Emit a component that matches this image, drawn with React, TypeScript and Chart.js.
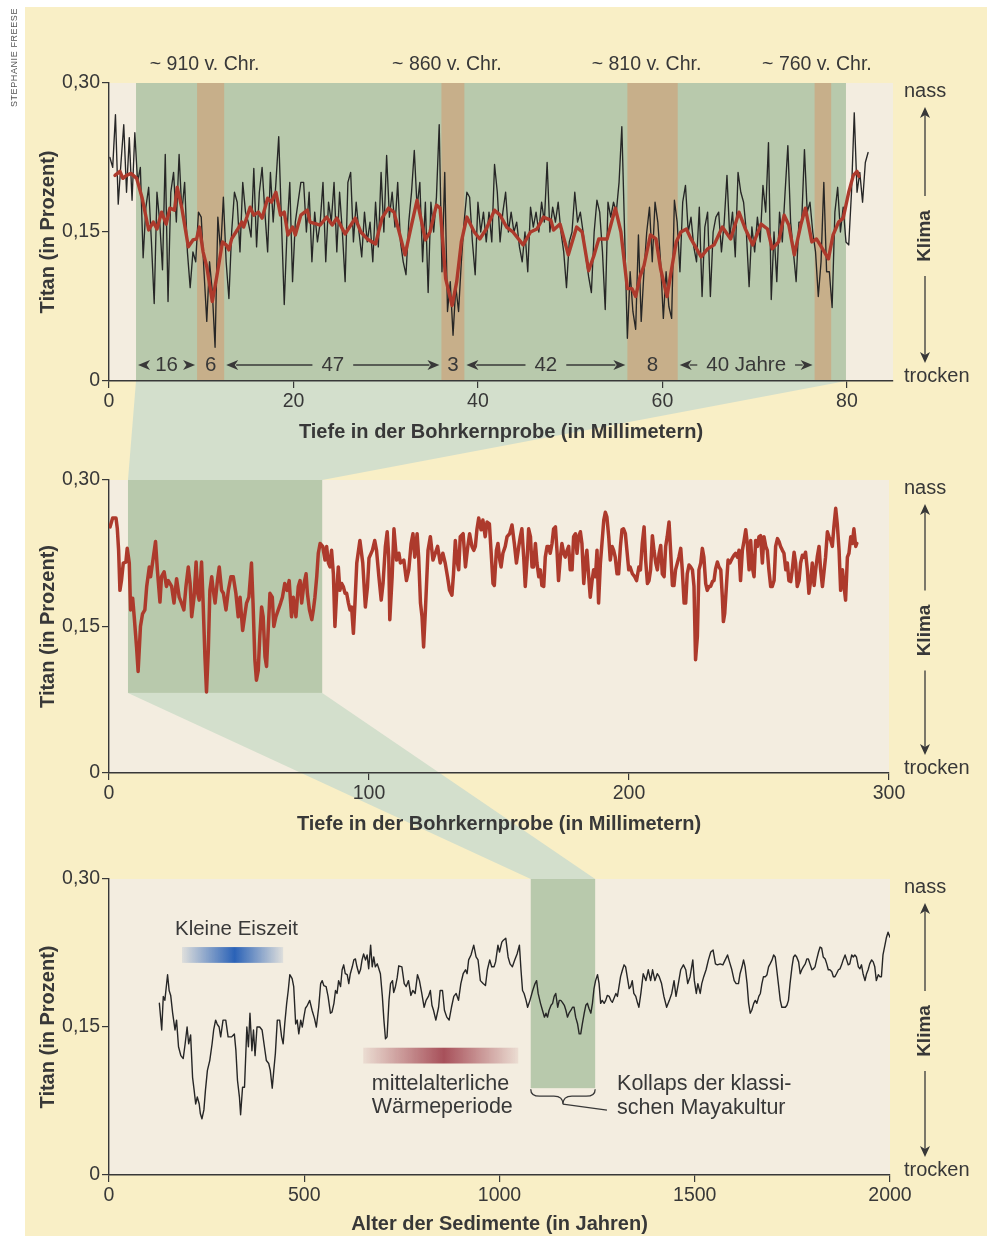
import React, { useEffect, useRef } from "react";
import { Chart, registerables } from "chart.js";

Chart.register(...registerables);

const FONT = "'Liberation Sans', Arial, Helvetica, sans-serif";
Chart.defaults.font.family = FONT;

// ---------------- data ----------------
const titanTicks = [0, 0.15, 0.3];
const topDepthTicks = [0, 20, 40, 60, 80];
const midDepthTicks = [0, 100, 200, 300];
const ageTicks = [0, 500, 1000, 1500, 2000];
const topDepthRange = [0, 85];
const midDepthRange = [0, 300];
const ageRange = [0, 2000];

// top core section (mm) that is enlarged, dry bands (mm), labels
const topSection = [2.93, 79.9];
const dryBands = [[9.55, 12.49], [36.04, 38.53], [56.2, 61.66], [76.5, 78.3]];
const eraLabels = ["~ 910 v. Chr.", "~ 860 v. Chr.", "~ 810 v. Chr.", "~ 760 v. Chr."];
const dryBandYears = ["6", "3", "8", ""];
const gapIntervals = [[2.93, 9.55], [12.49, 36.04], [38.53, 56.2], [61.66, 76.5]];
const gapLabels = ["16", "47", "42", "40 Jahre"];

// middle core: section shown on top (mm) and its lower titan level
const midZoomDepth = [7.3, 82];
const midZoomFloor = 0.082;
// bottom: collapse period (years) and its lower titan level
const collapseAge = [1080, 1245];
const collapseFloor = 0.088;
const littleIceAge = [187, 446, 0.215, 0.231];
const medievalWarm = [651, 1048, 0.113, 0.129];

const topBlackStart = 0.1;
const topBlackStep = 0.3;
const topBlackTitan = [
  0.225, 0.215, 0.268, 0.178, 0.22, 0.258, 0.19, 0.245, 0.182, 0.25,
  0.2, 0.215, 0.124, 0.175, 0.195, 0.14, 0.078, 0.19, 0.16, 0.112,
  0.228, 0.08, 0.19, 0.21, 0.16, 0.228, 0.17, 0.2, 0.13, 0.094,
  0.13, 0.12, 0.17, 0.165, 0.11, 0.06, 0.12, 0.09, 0.034, 0.165,
  0.13, 0.185, 0.12, 0.083, 0.15, 0.19, 0.18, 0.13, 0.2, 0.17,
  0.16, 0.145, 0.214, 0.135, 0.19, 0.215, 0.17, 0.13, 0.21, 0.16,
  0.2, 0.246, 0.16, 0.077, 0.15, 0.2, 0.1, 0.16, 0.18, 0.2,
  0.2, 0.15, 0.19, 0.12, 0.17, 0.14, 0.16, 0.2, 0.12, 0.18,
  0.16, 0.2, 0.13, 0.19, 0.15, 0.1, 0.2, 0.21, 0.14, 0.18,
  0.15, 0.125, 0.17, 0.14, 0.16, 0.12, 0.18, 0.135, 0.21, 0.15,
  0.227, 0.165, 0.19, 0.155, 0.2, 0.14, 0.12, 0.107, 0.16, 0.19,
  0.232, 0.175, 0.2, 0.12, 0.18, 0.089, 0.18, 0.15, 0.185, 0.258,
  0.11, 0.21, 0.07, 0.1, 0.046, 0.095, 0.07, 0.12, 0.16, 0.19,
  0.185, 0.14, 0.107, 0.18, 0.15, 0.17, 0.14, 0.17, 0.14, 0.218,
  0.19, 0.14, 0.17, 0.19, 0.15, 0.17, 0.15, 0.16, 0.135, 0.12,
  0.15, 0.11, 0.175, 0.155, 0.17, 0.15, 0.18, 0.16, 0.22, 0.15,
  0.175, 0.16, 0.18, 0.15, 0.13, 0.094, 0.14, 0.15, 0.19, 0.16,
  0.17, 0.15, 0.125, 0.105, 0.089, 0.15, 0.182, 0.17, 0.13, 0.072,
  0.18, 0.165, 0.18, 0.17, 0.2, 0.256, 0.15, 0.043, 0.11, 0.07,
  0.052, 0.147, 0.06, 0.11, 0.15, 0.175, 0.12, 0.18, 0.16, 0.12,
  0.063, 0.11, 0.075, 0.063, 0.182, 0.16, 0.11, 0.18, 0.197, 0.15,
  0.165, 0.135, 0.12, 0.175, 0.085, 0.155, 0.17, 0.085, 0.15, 0.165,
  0.17, 0.13, 0.16, 0.207, 0.145, 0.17, 0.125, 0.21, 0.19, 0.18,
  0.15, 0.095, 0.155, 0.13, 0.165, 0.14, 0.197, 0.17, 0.24, 0.082,
  0.15, 0.1, 0.17, 0.14, 0.19, 0.237, 0.16, 0.13, 0.1, 0.16,
  0.16, 0.233, 0.17, 0.18, 0.15, 0.13, 0.085, 0.12, 0.2, 0.11,
  0.11, 0.074, 0.17, 0.195, 0.15, 0.175, 0.14, 0.137, 0.19, 0.27,
  0.19, 0.21, 0.18, 0.22, 0.23,
];

const topRedSeries: [number, number][] = [
  [0.65, 0.207], [1.19, 0.211], [1.5, 0.204], [1.9, 0.207], [2.4, 0.209], [3.0, 0.204], [3.6, 0.184],
  [4.3, 0.152], [4.8, 0.16], [5.2, 0.153], [5.7, 0.17], [6.2, 0.158], [6.6, 0.174], [7.1, 0.172],
  [7.4, 0.195], [7.9, 0.174], [8.6, 0.135], [9.1, 0.142], [9.5, 0.143], [9.8, 0.155], [10.2, 0.13],
  [10.6, 0.115], [11.2, 0.08], [11.7, 0.106], [12.3, 0.14], [12.7, 0.137], [13.0, 0.132], [13.3, 0.143],
  [13.9, 0.152], [14.4, 0.16], [14.6, 0.155], [15.3, 0.175], [15.7, 0.167], [16.2, 0.17], [16.6, 0.164],
  [17.2, 0.184], [17.6, 0.18], [18.1, 0.19], [18.6, 0.167], [19.0, 0.17], [19.4, 0.147], [19.9, 0.155],
  [20.2, 0.147], [20.8, 0.167], [21.5, 0.172], [21.8, 0.16], [22.9, 0.157], [23.6, 0.165], [24.2, 0.157],
  [24.7, 0.164], [25.6, 0.148], [26.7, 0.164], [27.3, 0.15], [28.0, 0.143], [28.9, 0.138], [29.6, 0.164],
  [30.3, 0.174], [30.9, 0.17], [32.1, 0.127], [32.7, 0.153], [33.4, 0.182], [34.3, 0.142], [34.8, 0.15],
  [35.5, 0.177], [35.9, 0.174], [36.5, 0.103], [37.2, 0.076], [37.7, 0.1], [38.2, 0.14], [38.8, 0.165],
  [39.6, 0.15], [40.2, 0.143], [40.9, 0.153], [41.8, 0.172], [42.4, 0.167], [43.1, 0.155], [43.8, 0.15],
  [44.9, 0.137], [45.7, 0.15], [46.4, 0.153], [47.1, 0.165], [47.9, 0.162], [48.2, 0.152], [48.9, 0.158],
  [49.8, 0.127], [50.7, 0.155], [51.3, 0.15], [52.0, 0.111], [52.6, 0.127], [53.1, 0.143], [54.0, 0.143],
  [54.9, 0.174], [55.5, 0.15], [56.2, 0.093], [56.7, 0.093], [57.1, 0.085], [57.6, 0.106], [58.0, 0.116],
  [58.7, 0.147], [59.3, 0.143], [59.8, 0.113], [60.5, 0.085], [61.0, 0.113], [61.5, 0.14], [62.0, 0.15],
  [62.6, 0.153], [63.1, 0.143], [64.2, 0.125], [64.9, 0.133], [65.6, 0.137], [66.5, 0.155], [67.4, 0.143],
  [68.3, 0.17], [69.0, 0.153], [69.8, 0.137], [70.7, 0.158], [71.4, 0.153], [71.9, 0.133], [72.6, 0.14],
  [73.2, 0.167], [73.7, 0.157], [74.3, 0.127], [75.0, 0.157], [75.5, 0.174], [76.2, 0.14], [76.7, 0.143],
  [77.1, 0.137], [78.0, 0.123], [78.5, 0.147], [79.1, 0.16], [79.6, 0.164], [80.2, 0.19], [80.7, 0.207],
  [81.1, 0.211], [81.3, 0.206],
];

const midSeries: [number, number][] = [
  [0.4, 0.252], [1.4, 0.261], [2.7, 0.261], [3.2, 0.25], [3.7, 0.228], [4.2, 0.187], [4.8, 0.197], [5.5, 0.215],
  [6.5, 0.216], [7.0, 0.23], [7.8, 0.215], [8.3, 0.167], [9.1, 0.179], [9.7, 0.16], [10.6, 0.129], [11.2, 0.104],
  [12.1, 0.15], [12.9, 0.163], [13.8, 0.167], [14.5, 0.191], [15.5, 0.211], [16.0, 0.201], [17.0, 0.22], [17.9, 0.237],
  [18.6, 0.208], [19.6, 0.175], [20.2, 0.201], [21.2, 0.206], [22.1, 0.191], [22.8, 0.197], [24.1, 0.191], [25.0, 0.174],
  [26.0, 0.199], [27.0, 0.18], [27.9, 0.174], [28.8, 0.167], [29.6, 0.191], [30.5, 0.211], [31.2, 0.194], [31.8, 0.16],
  [32.7, 0.18], [33.5, 0.216], [34.1, 0.184], [34.7, 0.177], [35.6, 0.216], [36.2, 0.174], [36.9, 0.119], [37.5, 0.083],
  [38.2, 0.126], [38.8, 0.187], [39.5, 0.201], [40.1, 0.187], [40.8, 0.174], [41.7, 0.197], [42.4, 0.211], [43.3, 0.187],
  [44.0, 0.184], [45.0, 0.167], [45.9, 0.187], [46.9, 0.201], [47.8, 0.201], [48.8, 0.184], [49.7, 0.16], [50.4, 0.18],
  [51.4, 0.146], [52.3, 0.163], [52.9, 0.174], [53.8, 0.18], [54.8, 0.215], [55.4, 0.174], [56.1, 0.116], [56.7, 0.095],
  [57.4, 0.105], [58.0, 0.14], [58.7, 0.17], [59.3, 0.16], [60.0, 0.119], [60.6, 0.109], [61.3, 0.15], [61.9, 0.184],
  [62.8, 0.18], [63.4, 0.15], [64.2, 0.16], [65.1, 0.167], [66.0, 0.174], [66.7, 0.18], [67.6, 0.194], [68.5, 0.187],
  [69.3, 0.197], [70.2, 0.16], [70.9, 0.18], [71.9, 0.16], [72.8, 0.191], [73.5, 0.197], [74.1, 0.174], [75.0, 0.194],
  [75.8, 0.204], [76.3, 0.184], [77.1, 0.167], [78.0, 0.157], [78.6, 0.167], [79.2, 0.18], [79.9, 0.201], [80.5, 0.225],
  [81.2, 0.235], [82.2, 0.232], [83.1, 0.218], [83.7, 0.232], [84.4, 0.215], [85.0, 0.211], [85.6, 0.228], [86.3, 0.204],
  [86.9, 0.15], [87.6, 0.187], [88.2, 0.211], [88.8, 0.187], [89.5, 0.194], [90.1, 0.191], [90.8, 0.184], [91.4, 0.184],
  [92.1, 0.174], [92.7, 0.167], [93.3, 0.17], [94.0, 0.143], [94.6, 0.174], [95.3, 0.215], [96.5, 0.238], [97.6, 0.215],
  [98.6, 0.17], [99.4, 0.19], [100.0, 0.22], [101.3, 0.228], [102.2, 0.238], [102.9, 0.228], [103.8, 0.201], [104.7, 0.177],
  [105.4, 0.194], [106.3, 0.232], [107.0, 0.247], [107.6, 0.221], [108.0, 0.157], [108.9, 0.201], [109.6, 0.25], [110.6, 0.218],
  [111.5, 0.225], [112.1, 0.215], [113.4, 0.218], [114.4, 0.197], [115.3, 0.208], [116.2, 0.235], [116.9, 0.245], [117.6, 0.221],
  [118.5, 0.245], [119.1, 0.221], [119.8, 0.174], [120.4, 0.16], [121.0, 0.129], [121.7, 0.167], [122.7, 0.228], [123.6, 0.242],
  [124.6, 0.218], [125.5, 0.225], [126.4, 0.232], [127.4, 0.215], [128.4, 0.225], [129.3, 0.215], [130.2, 0.201], [131.0, 0.187],
  [131.9, 0.182], [132.5, 0.204], [133.2, 0.238], [133.8, 0.218], [134.5, 0.208], [135.1, 0.242], [136.2, 0.245], [137.1, 0.211],
  [138.0, 0.232], [138.7, 0.245], [139.6, 0.232], [140.3, 0.228], [140.9, 0.232], [141.5, 0.249], [142.2, 0.261], [143.1, 0.249],
  [143.8, 0.259], [144.7, 0.242], [145.4, 0.257], [146.3, 0.255], [147.0, 0.225], [147.7, 0.194], [148.2, 0.192], [149.0, 0.228],
  [149.6, 0.235], [150.3, 0.218], [150.8, 0.211], [151.5, 0.225], [152.4, 0.232], [153.1, 0.242], [154.1, 0.245], [155.0, 0.254],
  [155.9, 0.235], [156.7, 0.215], [157.6, 0.232], [158.2, 0.242], [158.8, 0.25], [159.5, 0.221], [160.1, 0.191], [160.8, 0.218],
  [161.4, 0.25], [162.1, 0.242], [162.7, 0.211], [163.3, 0.211], [164.0, 0.235], [164.6, 0.215], [165.3, 0.201], [165.9, 0.208],
  [166.5, 0.192], [167.2, 0.191], [167.8, 0.221], [168.5, 0.232], [169.1, 0.232], [169.7, 0.225], [170.4, 0.235], [171.0, 0.25],
  [171.7, 0.252], [172.3, 0.228], [172.9, 0.197], [173.6, 0.221], [174.2, 0.235], [174.9, 0.225], [175.5, 0.221], [176.2, 0.228],
  [176.8, 0.232], [177.4, 0.208], [178.1, 0.208], [178.7, 0.242], [179.4, 0.245], [180.0, 0.225], [180.6, 0.242], [181.3, 0.247],
  [181.9, 0.235], [182.6, 0.194], [183.2, 0.215], [183.8, 0.228], [184.5, 0.201], [185.1, 0.18], [185.8, 0.197], [186.4, 0.208],
  [187.1, 0.201], [187.7, 0.228], [188.3, 0.174], [189.0, 0.215], [189.6, 0.235], [190.3, 0.259], [190.9, 0.267], [191.5, 0.262],
  [192.2, 0.242], [192.8, 0.218], [193.5, 0.232], [194.1, 0.228], [194.7, 0.221], [195.4, 0.204], [196.0, 0.204], [196.7, 0.232],
  [197.3, 0.249], [197.9, 0.25], [198.6, 0.245], [199.2, 0.228], [199.9, 0.208], [200.4, 0.211], [201.3, 0.204], [202.2, 0.201],
  [202.9, 0.197], [203.8, 0.211], [204.4, 0.208], [205.1, 0.235], [205.8, 0.252], [206.4, 0.218], [207.1, 0.194], [207.7, 0.197],
  [208.3, 0.208], [209.0, 0.243], [209.6, 0.228], [210.3, 0.215], [210.9, 0.208], [211.6, 0.225], [212.2, 0.233], [212.8, 0.204],
  [213.5, 0.201], [214.1, 0.232], [214.7, 0.242], [215.4, 0.257], [216.0, 0.228], [216.7, 0.192], [217.3, 0.192], [217.9, 0.208],
  [218.6, 0.215], [219.2, 0.221], [219.9, 0.23], [220.5, 0.208], [221.2, 0.174], [221.8, 0.174], [222.4, 0.204], [223.1, 0.213],
  [223.7, 0.211], [224.4, 0.208], [225.0, 0.191], [225.6, 0.116], [226.3, 0.14], [226.9, 0.208], [227.6, 0.215], [228.2, 0.23],
  [228.8, 0.221], [229.5, 0.194], [230.1, 0.187], [230.8, 0.191], [231.4, 0.191], [232.1, 0.196], [232.7, 0.197], [233.3, 0.209],
  [234.0, 0.216], [234.6, 0.211], [235.3, 0.208], [235.9, 0.18], [236.3, 0.155], [236.8, 0.163], [237.6, 0.197], [238.1, 0.218],
  [238.8, 0.215], [239.7, 0.22], [240.4, 0.223], [241.0, 0.225], [241.7, 0.221], [242.3, 0.228], [242.9, 0.197], [243.6, 0.228],
  [244.2, 0.237], [244.9, 0.249], [245.5, 0.235], [246.2, 0.208], [246.8, 0.238], [247.4, 0.211], [248.1, 0.201], [248.7, 0.238],
  [249.4, 0.232], [250.0, 0.242], [250.6, 0.243], [251.3, 0.215], [251.9, 0.242], [252.6, 0.232], [253.2, 0.228], [253.8, 0.208],
  [254.5, 0.191], [255.1, 0.191], [255.8, 0.197], [256.4, 0.232], [257.1, 0.24], [257.7, 0.237], [258.3, 0.232], [259.0, 0.228],
  [259.6, 0.225], [260.3, 0.208], [260.9, 0.215], [261.5, 0.197], [262.2, 0.196], [262.8, 0.208], [263.5, 0.226], [264.1, 0.215],
  [264.7, 0.191], [265.4, 0.197], [266.0, 0.215], [266.7, 0.223], [267.3, 0.221], [267.9, 0.226], [268.6, 0.208], [269.2, 0.184],
  [269.9, 0.197], [270.5, 0.215], [271.2, 0.192], [271.8, 0.208], [272.4, 0.221], [273.1, 0.232], [273.7, 0.208], [274.4, 0.191],
  [275.0, 0.206], [275.6, 0.221], [276.3, 0.247], [276.9, 0.242], [277.6, 0.238], [278.2, 0.232], [278.8, 0.252], [279.5, 0.271],
  [280.1, 0.255], [280.8, 0.228], [281.4, 0.187], [282.1, 0.208], [282.7, 0.191], [283.3, 0.177], [284.0, 0.221], [284.6, 0.225],
  [285.3, 0.242], [285.9, 0.235], [286.5, 0.25], [287.2, 0.232], [287.6, 0.235],
];

const ageSeries: [number, number][] = [
  [129, 0.174], [135, 0.147], [139, 0.181], [143, 0.177], [150, 0.203], [154, 0.187], [158, 0.182], [163, 0.164],
  [169, 0.147], [173, 0.157], [178, 0.13], [184, 0.121], [190, 0.118], [195, 0.133], [200, 0.15], [204, 0.133],
  [209, 0.142], [214, 0.099], [218, 0.086], [222, 0.072], [226, 0.079], [231, 0.072], [234, 0.062], [238, 0.057],
  [243, 0.066], [247, 0.086], [252, 0.106], [258, 0.116], [264, 0.133], [268, 0.147], [273, 0.157], [277, 0.153],
  [282, 0.15], [286, 0.14], [292, 0.157], [299, 0.157], [305, 0.14], [314, 0.14], [321, 0.143], [325, 0.126],
  [329, 0.096], [334, 0.079], [337, 0.061], [342, 0.089], [347, 0.089], [353, 0.15], [357, 0.13], [361, 0.164],
  [366, 0.126], [370, 0.147], [374, 0.121], [379, 0.15], [386, 0.15], [392, 0.147], [398, 0.13], [403, 0.116],
  [409, 0.113], [413, 0.106], [418, 0.088], [422, 0.106], [426, 0.123], [431, 0.157], [437, 0.157], [442, 0.14],
  [446, 0.133], [450, 0.153], [455, 0.174], [459, 0.187], [463, 0.203], [469, 0.199], [473, 0.191], [478, 0.153],
  [482, 0.157], [486, 0.143], [491, 0.157], [495, 0.15], [499, 0.16], [503, 0.169], [508, 0.172], [514, 0.177],
  [520, 0.167], [526, 0.159], [531, 0.15], [537, 0.17], [542, 0.194], [546, 0.197], [550, 0.192], [556, 0.191],
  [561, 0.181], [567, 0.164], [571, 0.165], [576, 0.174], [580, 0.187], [584, 0.184], [588, 0.197], [593, 0.191],
  [597, 0.208], [601, 0.213], [605, 0.204], [610, 0.203], [614, 0.194], [618, 0.204], [623, 0.211], [627, 0.218],
  [631, 0.219], [635, 0.211], [640, 0.204], [644, 0.208], [648, 0.218], [652, 0.224], [657, 0.218], [661, 0.223],
  [665, 0.209], [670, 0.233], [674, 0.211], [678, 0.221], [682, 0.211], [687, 0.214], [691, 0.209], [695, 0.204],
  [700, 0.181], [704, 0.157], [708, 0.138], [712, 0.14], [717, 0.177], [721, 0.194], [726, 0.197], [729, 0.185],
  [733, 0.19], [738, 0.2], [742, 0.212], [750, 0.211], [756, 0.194], [761, 0.191], [767, 0.197], [773, 0.182],
  [778, 0.187], [784, 0.184], [790, 0.203], [795, 0.197], [801, 0.184], [807, 0.17], [812, 0.177], [818, 0.181],
  [823, 0.187], [827, 0.172], [831, 0.167], [837, 0.157], [844, 0.17], [848, 0.187], [854, 0.187], [859, 0.167],
  [865, 0.16], [871, 0.157], [877, 0.17], [883, 0.181], [889, 0.184], [895, 0.177], [901, 0.194], [907, 0.204],
  [913, 0.208], [917, 0.204], [921, 0.218], [927, 0.223], [934, 0.233], [940, 0.221], [945, 0.218], [951, 0.197],
  [958, 0.194], [964, 0.192], [969, 0.208], [975, 0.218], [980, 0.211], [986, 0.211], [990, 0.216], [996, 0.233],
  [1000, 0.226], [1006, 0.236], [1010, 0.238], [1016, 0.24], [1022, 0.221], [1027, 0.214], [1033, 0.211], [1039, 0.218],
  [1045, 0.224], [1051, 0.233], [1055, 0.208], [1059, 0.187], [1063, 0.184], [1068, 0.177], [1072, 0.17], [1078, 0.177],
  [1085, 0.187], [1091, 0.194], [1095, 0.197], [1099, 0.184], [1105, 0.174], [1110, 0.167], [1115, 0.16], [1119, 0.164],
  [1123, 0.16], [1127, 0.167], [1132, 0.172], [1136, 0.174], [1140, 0.181], [1144, 0.184], [1149, 0.17], [1153, 0.177],
  [1157, 0.177], [1161, 0.175], [1166, 0.172], [1170, 0.167], [1174, 0.16], [1178, 0.164], [1183, 0.167], [1187, 0.17],
  [1191, 0.17], [1195, 0.16], [1200, 0.153], [1204, 0.143], [1208, 0.143], [1212, 0.153], [1217, 0.164], [1221, 0.172],
  [1225, 0.174], [1229, 0.169], [1234, 0.164], [1238, 0.174], [1242, 0.189], [1246, 0.197], [1251, 0.203], [1255, 0.194],
  [1259, 0.174], [1263, 0.177], [1268, 0.174], [1272, 0.177], [1276, 0.182], [1281, 0.181], [1285, 0.177], [1289, 0.175],
  [1293, 0.179], [1298, 0.184], [1302, 0.181], [1306, 0.191], [1310, 0.201], [1315, 0.208], [1319, 0.213], [1323, 0.211],
  [1327, 0.201], [1332, 0.189], [1336, 0.191], [1340, 0.197], [1344, 0.184], [1349, 0.181], [1353, 0.175], [1357, 0.17],
  [1362, 0.184], [1368, 0.204], [1375, 0.197], [1381, 0.208], [1387, 0.197], [1392, 0.208], [1398, 0.197], [1404, 0.204],
  [1409, 0.201], [1415, 0.194], [1421, 0.181], [1428, 0.17], [1435, 0.177], [1441, 0.184], [1447, 0.197], [1452, 0.181],
  [1458, 0.194], [1464, 0.208], [1471, 0.213], [1477, 0.208], [1482, 0.194], [1488, 0.201], [1495, 0.218], [1499, 0.197],
  [1504, 0.184], [1508, 0.194], [1514, 0.184], [1518, 0.194], [1523, 0.201], [1529, 0.208], [1535, 0.218], [1541, 0.226],
  [1547, 0.228], [1553, 0.214], [1558, 0.213], [1565, 0.214], [1572, 0.213], [1578, 0.218], [1584, 0.223], [1589, 0.216],
  [1595, 0.208], [1601, 0.197], [1606, 0.194], [1612, 0.194], [1616, 0.204], [1621, 0.211], [1625, 0.218], [1629, 0.211],
  [1634, 0.194], [1638, 0.174], [1642, 0.164], [1646, 0.167], [1651, 0.174], [1655, 0.177], [1659, 0.174], [1664, 0.181],
  [1668, 0.184], [1672, 0.194], [1676, 0.201], [1681, 0.201], [1685, 0.203], [1689, 0.211], [1693, 0.214], [1698, 0.218],
  [1702, 0.223], [1706, 0.221], [1710, 0.208], [1715, 0.191], [1719, 0.177], [1723, 0.17], [1727, 0.17], [1732, 0.17],
  [1736, 0.172], [1740, 0.177], [1744, 0.194], [1749, 0.211], [1753, 0.221], [1757, 0.223], [1761, 0.221], [1766, 0.216],
  [1770, 0.204], [1774, 0.208], [1778, 0.211], [1783, 0.214], [1787, 0.219], [1791, 0.219], [1795, 0.214], [1800, 0.208],
  [1804, 0.209], [1808, 0.211], [1812, 0.218], [1817, 0.226], [1821, 0.231], [1825, 0.23], [1829, 0.221], [1834, 0.219],
  [1838, 0.214], [1842, 0.208], [1846, 0.208], [1851, 0.206], [1855, 0.201], [1859, 0.201], [1863, 0.204], [1868, 0.208],
  [1872, 0.209], [1876, 0.213], [1880, 0.218], [1885, 0.223], [1889, 0.218], [1893, 0.213], [1897, 0.214], [1902, 0.223],
  [1906, 0.221], [1910, 0.223], [1914, 0.221], [1919, 0.211], [1923, 0.209], [1927, 0.213], [1931, 0.204], [1936, 0.197],
  [1940, 0.204], [1944, 0.208], [1948, 0.214], [1953, 0.218], [1957, 0.216], [1961, 0.211], [1965, 0.197], [1970, 0.203],
  [1974, 0.201], [1978, 0.201], [1982, 0.223], [1987, 0.233], [1991, 0.241], [1995, 0.246], [2000, 0.241],
];

// ---------------- styling / layout ----------------
const INK = "#383838";
const PAGE_W = 987;
const PAGE_H = 1236;
const C = {
  yellow: "#f9efc6",
  beige: "#f3ede0",
  green: "#b8c9ac",
  tan: "#c7af8a",
  link: "#d3dfcc",
  black: "#262626",
  red: "#ad3a2c",
};
const PANELS = [
  { top: 30, height: 430, padTop: 53, padRight: 94, padBottom: 4, xHeight: 75, xTitlePad: 12 },
  { top: 460, height: 400, padTop: 20, padRight: 98, padBottom: 7, xHeight: 80, xTitlePad: 17 },
  { top: 860, height: 376, padTop: 19, padRight: 97, padBottom: 0, xHeight: 61, xTitlePad: 0 },
];
const Y_AXIS_WIDTH = 109;
const Y_TITLE_PAD = 36;
const CLIMATE_X = 925;
const CLIMATE_TEXT_X = 904;
const TICK_SIZE = 19.5;
const TITLE_SIZE = 20;

const toXY = (pairs: [number, number][]) => pairs.map(([x, y]) => ({ x, y }));

function arrowHead(ctx: CanvasRenderingContext2D, x: number, y: number, dx: number, dy: number, len = 11, half = 5) {
  const px = -dy, py = dx;
  const bx = x - dx * len, by = y - dy * len;
  const nx = x - dx * len * 0.72, ny = y - dy * len * 0.72;
  ctx.beginPath();
  ctx.moveTo(x, y);
  ctx.lineTo(bx + px * half, by + py * half);
  ctx.lineTo(nx, ny);
  ctx.lineTo(bx - px * half, by - py * half);
  ctx.closePath();
  ctx.fill();
}

function seg(ctx: CanvasRenderingContext2D, x1: number, y1: number, x2: number, y2: number) {
  ctx.beginPath();
  ctx.moveTo(x1, y1);
  ctx.lineTo(x2, y2);
  ctx.stroke();
}

const climatePlugin = {
  id: "climateScale",
  afterDraw(chart: any) {
    const { ctx, chartArea: a } = chart;
    const x = CLIMATE_X;
    const mid = (a.top + a.bottom) / 2 + 4;
    ctx.save();
    ctx.fillStyle = INK;
    ctx.strokeStyle = INK;
    ctx.lineWidth = 1.3;
    ctx.textAlign = "left";
    ctx.textBaseline = "middle";
    ctx.font = `20px ${FONT}`;
    ctx.fillText("nass", CLIMATE_TEXT_X, a.top + 8);
    ctx.fillText("trocken", CLIMATE_TEXT_X, a.bottom - 5);
    seg(ctx, x, mid - 40, x, a.top + 30);
    arrowHead(ctx, x, a.top + 24, 0, -1, 11, 5);
    seg(ctx, x, mid + 40, x, a.bottom - 24);
    arrowHead(ctx, x, a.bottom - 18, 0, 1, 11, 5);
    ctx.translate(x, mid);
    ctx.rotate(-Math.PI / 2);
    ctx.textAlign = "center";
    ctx.font = `bold 19px ${FONT}`;
    ctx.fillText("Klima", 0, 0);
    ctx.restore();
  },
};

const topCorePlugin = {
  id: "topCore",
  beforeDraw(chart: any) {
    const { ctx, chartArea: a, scales } = chart;
    const X = (v: number) => scales.x.getPixelForValue(v);
    ctx.save();
    ctx.fillStyle = C.green;
    ctx.fillRect(X(topSection[0]), a.top, X(topSection[1]) - X(topSection[0]), a.bottom - a.top);
    ctx.fillStyle = C.tan;
    dryBands.forEach(([s, e]) => ctx.fillRect(X(s), a.top, X(e) - X(s), a.bottom - a.top));
    ctx.restore();
  },
  afterDraw(chart: any) {
    const { ctx, chartArea: a, scales } = chart;
    const X = (v: number) => scales.x.getPixelForValue(v);
    ctx.save();
    ctx.fillStyle = INK;
    ctx.strokeStyle = INK;
    ctx.lineWidth = 1.3;
    ctx.textAlign = "center";
    ctx.textBaseline = "middle";
    ctx.font = `19.5px ${FONT}`;
    dryBands.forEach(([s, e], i) => {
      const c = (X(s) + X(e)) / 2;
      ctx.fillText(eraLabels[i], c - 6, a.top - 18);
    });
    ctx.font = `20.5px ${FONT}`;
    const yRow = a.bottom - 16;
    dryBands.forEach(([s, e], i) => {
      const c = (X(s) + X(e)) / 2;
      if (dryBandYears[i]) ctx.fillText(dryBandYears[i], c, yRow);
    });
    gapIntervals.forEach(([s, e], i) => {
      const p = X(s) + 2;
      const q = X(e) - 2;
      const c = (p + q) / 2;
      const w = ctx.measureText(gapLabels[i]).width;
      ctx.fillText(gapLabels[i], c, yRow);
      arrowHead(ctx, p, yRow, -1, 0, 12, 5);
      arrowHead(ctx, q, yRow, 1, 0, 12, 5);
      const l1 = p + 10, l2 = c - w / 2 - 9;
      if (l2 > l1) seg(ctx, l1, yRow, l2, yRow);
      const r1 = c + w / 2 + 9, r2 = q - 10;
      if (r2 > r1) seg(ctx, r1, yRow, r2, yRow);
    });
    ctx.restore();
  },
};

const midCorePlugin = {
  id: "midCore",
  beforeDraw(chart: any) {
    const { ctx, scales } = chart;
    const x0 = scales.x.getPixelForValue(midZoomDepth[0]);
    const x1 = scales.x.getPixelForValue(midZoomDepth[1]);
    const y0 = scales.y.getPixelForValue(0.3);
    const y1 = scales.y.getPixelForValue(midZoomFloor);
    ctx.save();
    ctx.fillStyle = C.green;
    ctx.fillRect(x0, y0, x1 - x0, y1 - y0);
    ctx.restore();
  },
};

function gradientBar(ctx: CanvasRenderingContext2D, chart: any, box: number[], rgb: string) {
  const { scales } = chart;
  const x0 = scales.x.getPixelForValue(box[0]);
  const x1 = scales.x.getPixelForValue(box[1]);
  const y0 = scales.y.getPixelForValue(box[3]);
  const y1 = scales.y.getPixelForValue(box[2]);
  const g = ctx.createLinearGradient(x0, 0, x1, 0);
  g.addColorStop(0, `rgba(${rgb},0.1)`);
  g.addColorStop(0.52, `rgba(${rgb},1)`);
  g.addColorStop(1, `rgba(${rgb},0.1)`);
  ctx.fillStyle = g;
  ctx.fillRect(x0, y0, x1 - x0, y1 - y0);
}

const agePlugin = {
  id: "ageNotes",
  beforeDraw(chart: any) {
    const { ctx, scales } = chart;
    const x0 = scales.x.getPixelForValue(collapseAge[0]);
    const x1 = scales.x.getPixelForValue(collapseAge[1]);
    const y0 = scales.y.getPixelForValue(0.3);
    const y1 = scales.y.getPixelForValue(collapseFloor);
    ctx.save();
    ctx.fillStyle = C.green;
    ctx.fillRect(x0, y0, x1 - x0, y1 - y0);
    ctx.restore();
  },
  afterDraw(chart: any) {
    const { ctx, scales } = chart;
    const X = (v: number) => scales.x.getPixelForValue(v);
    const Y = (v: number) => scales.y.getPixelForValue(v);
    ctx.save();
    gradientBar(ctx, chart, littleIceAge, "42,98,183");
    gradientBar(ctx, chart, medievalWarm, "167,80,90");
    ctx.fillStyle = INK;
    ctx.strokeStyle = INK;
    ctx.textAlign = "left";
    ctx.textBaseline = "middle";
    ctx.font = `20.5px ${FONT}`;
    ctx.fillText("Kleine Eiszeit", X(169), Y(0.249));
    ctx.font = `21.5px ${FONT}`;
    ctx.fillText("mittelalterliche", X(673), Y(0.092));
    ctx.fillText("Wärmeperiode", X(673), Y(0.069));
    ctx.fillText("Kollaps der klassi-", X(1301), Y(0.092));
    ctx.fillText("schen Mayakultur", X(1301), Y(0.068));
    // brace under the collapse period
    const x0 = X(collapseAge[0]);
    const x1 = X(collapseAge[1]);
    const xm = (x0 + x1) / 2;
    const y0 = Y(collapseFloor) + 1;
    const h = 15;
    const ym = y0 + 7;
    ctx.lineWidth = 1.3;
    ctx.beginPath();
    ctx.moveTo(x0, y0);
    ctx.quadraticCurveTo(x0, ym, x0 + 9, ym);
    ctx.lineTo(xm - 9, ym);
    ctx.quadraticCurveTo(xm, ym, xm, y0 + h);
    ctx.quadraticCurveTo(xm, ym, xm + 9, ym);
    ctx.lineTo(x1 - 9, ym);
    ctx.quadraticCurveTo(x1, ym, x1, y0);
    ctx.stroke();
    seg(ctx, xm, y0 + h, xm + 44, y0 + h + 6);
    ctx.restore();
  },
};

function buildConfig(idx: number, datasets: any[], xRange: number[], xTicks: number[], xTitle: string, plugins: any[]) {
  const p = PANELS[idx];
  return {
    type: "line",
    data: { datasets },
    plugins: [...plugins, climatePlugin],
    options: {
      responsive: false,
      maintainAspectRatio: false,
      animation: false,
      events: [],
      layout: { padding: { left: 0, top: p.padTop, right: p.padRight, bottom: p.padBottom } },
      plugins: { legend: { display: false }, tooltip: { enabled: false } },
      elements: {
        point: { radius: 0 },
        line: { tension: 0, borderJoinStyle: "round", borderCapStyle: "round" },
      },
      scales: {
        x: {
          type: "linear",
          min: xRange[0],
          max: xRange[1],
          afterBuildTicks: (s: any) => {
            s.ticks = xTicks.map((value) => ({ value }));
          },
          afterFit: (s: any) => {
            s.height = p.xHeight;
          },
          grid: { drawOnChartArea: false, drawTicks: true, tickLength: 7, color: INK, lineWidth: 1.2 },
          border: { display: true, color: INK, width: 1.4 },
          ticks: {
            color: INK,
            font: { family: FONT, size: TICK_SIZE },
            padding: 2,
            maxRotation: 0,
            autoSkip: false,
            callback: (v: any) => String(v),
          },
          title: {
            display: true,
            text: xTitle,
            color: INK,
            font: { family: FONT, size: TITLE_SIZE, weight: "bold", lineHeight: 1.2 },
            padding: { top: 0, bottom: p.xTitlePad },
          },
        },
        y: {
          type: "linear",
          min: 0,
          max: 0.3,
          afterBuildTicks: (s: any) => {
            s.ticks = titanTicks.map((value) => ({ value }));
          },
          afterFit: (s: any) => {
            s.width = Y_AXIS_WIDTH;
          },
          grid: { drawOnChartArea: false, drawTicks: true, tickLength: 7, color: INK, lineWidth: 1.2 },
          border: { display: true, color: INK, width: 1.4 },
          ticks: {
            color: INK,
            font: { family: FONT, size: TICK_SIZE },
            padding: 2,
            autoSkip: false,
            callback: (v: any) => (Number(v) === 0 ? "0" : Number(v).toFixed(2).replace(".", ",")),
          },
          title: {
            display: true,
            text: "Titan (in Prozent)",
            color: INK,
            font: { family: FONT, size: TITLE_SIZE, weight: "bold", lineHeight: 1.2 },
            padding: { top: Y_TITLE_PAD, bottom: 0 },
          },
        },
      },
    },
  };
}

function paintBackdrop(canvas: HTMLCanvasElement, charts: any[]) {
  const ctx = canvas.getContext("2d")!;
  ctx.clearRect(0, 0, PAGE_W, PAGE_H);
  ctx.fillStyle = "#ffffff";
  ctx.fillRect(0, 0, PAGE_W, PAGE_H);
  ctx.fillStyle = C.yellow;
  ctx.fillRect(25, 7, PAGE_W - 25, PAGE_H - 7);
  charts.forEach((c, i) => {
    const a = c.chartArea;
    ctx.fillStyle = C.beige;
    ctx.fillRect(a.left, PANELS[i].top + a.top, a.right - a.left, a.bottom - a.top);
  });
  const X = (i: number, v: number) => charts[i].scales.x.getPixelForValue(v);
  const Y = (i: number, v: number) => PANELS[i].top + charts[i].scales.y.getPixelForValue(v);
  const poly = (pts: number[][]) => {
    ctx.beginPath();
    ctx.moveTo(pts[0][0], pts[0][1]);
    pts.slice(1).forEach(([x, y]) => ctx.lineTo(x, y));
    ctx.closePath();
    ctx.fill();
  };
  ctx.fillStyle = C.link;
  poly([
    [X(0, topSection[0]), Y(0, 0)],
    [X(0, topSection[1]), Y(0, 0)],
    [X(1, midZoomDepth[1]), Y(1, 0.3)],
    [X(1, midZoomDepth[0]), Y(1, 0.3)],
  ]);
  poly([
    [X(1, midZoomDepth[0]), Y(1, midZoomFloor)],
    [X(1, midZoomDepth[1]), Y(1, midZoomFloor)],
    [X(2, collapseAge[1]), Y(2, 0.3)],
    [X(2, collapseAge[0]), Y(2, 0.3)],
  ]);
  // credit
  ctx.save();
  ctx.fillStyle = "#555555";
  ctx.font = `9px ${FONT}`;
  (ctx as any).letterSpacing = "0.6px";
  ctx.textAlign = "right";
  ctx.textBaseline = "middle";
  ctx.translate(15, 8);
  ctx.rotate(-Math.PI / 2);
  ctx.fillText("STEPHANIE FREESE", 0, 0);
  ctx.restore();
}

export default function App() {
  const bgRef = useRef<HTMLCanvasElement>(null);
  const r1 = useRef<HTMLCanvasElement>(null);
  const r2 = useRef<HTMLCanvasElement>(null);
  const r3 = useRef<HTMLCanvasElement>(null);

  useEffect(() => {
    const topBlack = topBlackTitan.map((y, i) => ({ x: +(topBlackStart + i * topBlackStep).toFixed(2), y }));
    const charts = [
      new Chart(
        r1.current as HTMLCanvasElement,
        buildConfig(
          0,
          [
            { data: toXY(topRedSeries), borderColor: C.red, borderWidth: 3.4 },
            { data: topBlack, borderColor: C.black, borderWidth: 1.35 },
          ],
          topDepthRange,
          topDepthTicks,
          "Tiefe in der Bohrkernprobe (in Millimetern)",
          [topCorePlugin]
        ) as any
      ),
      new Chart(
        r2.current as HTMLCanvasElement,
        buildConfig(
          1,
          [{ data: toXY(midSeries), borderColor: C.red, borderWidth: 3.5 }],
          midDepthRange,
          midDepthTicks,
          "Tiefe in der Bohrkernprobe (in Millimetern)",
          [midCorePlugin]
        ) as any
      ),
      new Chart(
        r3.current as HTMLCanvasElement,
        buildConfig(
          2,
          [{ data: toXY(ageSeries), borderColor: C.black, borderWidth: 1.4 }],
          ageRange,
          ageTicks,
          "Alter der Sedimente (in Jahren)",
          [agePlugin]
        ) as any
      ),
    ];
    if (bgRef.current) paintBackdrop(bgRef.current, charts);
    return () => charts.forEach((c) => c.destroy());
  }, []);

  const refs = [r1, r2, r3];
  return (
    <div style={{ position: "absolute", left: 0, top: 0, width: PAGE_W, height: PAGE_H, overflow: "hidden", background: "#fff" }}>
      <canvas ref={bgRef} width={PAGE_W} height={PAGE_H} style={{ position: "absolute", left: 0, top: 0, width: PAGE_W, height: PAGE_H }} />
      {PANELS.map((p, i) => (
        <canvas
          key={i}
          ref={refs[i]}
          width={PAGE_W}
          height={p.height}
          style={{ position: "absolute", left: 0, top: p.top, width: PAGE_W, height: p.height, display: "block" }}
        />
      ))}
    </div>
  );
}
